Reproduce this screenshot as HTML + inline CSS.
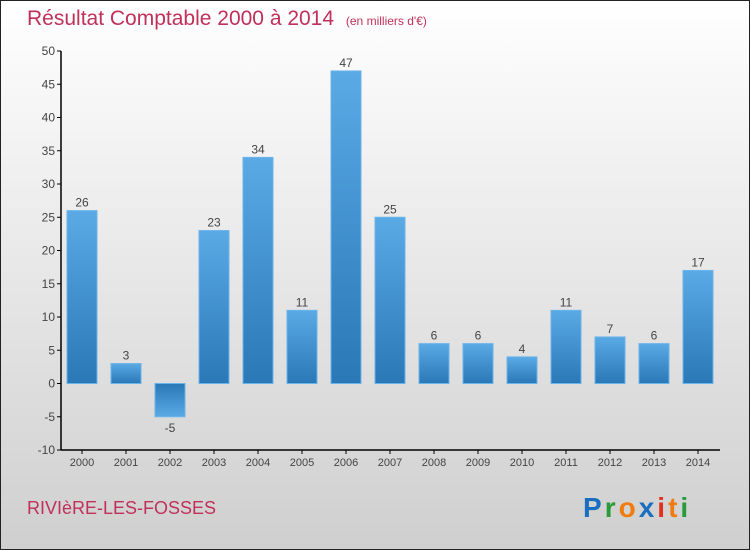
<!DOCTYPE html>
<html><head><meta charset="utf-8"><style>
body{margin:0;width:750px;height:550px;overflow:hidden}
svg{display:block}
</style></head><body>
<svg id="c" width="750" height="550" xmlns="http://www.w3.org/2000/svg" font-family="'Liberation Sans', sans-serif">
<defs>
<linearGradient id="bg" x1="0" y1="0" x2="0" y2="1"><stop offset="0" stop-color="#ffffff"/><stop offset="1" stop-color="#cfcfcf"/></linearGradient>
<linearGradient id="bp" x1="0" y1="0" x2="0" y2="1"><stop offset="0" stop-color="#5aaae6"/><stop offset="1" stop-color="#2a78b6"/></linearGradient>
<linearGradient id="bn" x1="0" y1="0" x2="0" y2="1"><stop offset="0" stop-color="#2a78b6"/><stop offset="1" stop-color="#5aaae6"/></linearGradient>
</defs>
<rect x="0.5" y="0.5" width="749" height="549" fill="url(#bg)" stroke="#222"/>
<text x="27" y="25" font-size="21" fill="#c0305a">Résultat Comptable 2000 à 2014 <tspan font-size="12" dx="6">(en milliers d'€)</tspan></text>
<g id="axes"></g>
<g id="bars"></g>
<text x="27" y="514" font-size="18" fill="#c0305a">RIVIèRE-LES-FOSSES</text>
<text x="583" y="517" font-size="28" font-weight="bold" letter-spacing="3"><tspan fill="#1a6ec0">P</tspan><tspan fill="#2a9a3a">r</tspan><tspan fill="#f07c10">o</tspan><tspan fill="#1a6ec0">x</tspan><tspan fill="#e03020">i</tspan><tspan fill="#f07c10">t</tspan><tspan fill="#2a9a3a">i</tspan></text>
</svg>
<script>
const years=["2000","2001","2002","2003","2004","2005","2006","2007","2008","2009","2010","2011","2012","2013","2014"];
const values=[26,3,-5,23,34,11,47,25,6,6,4,11,7,6,17];
const yTicks=[-10,-5,0,5,10,15,20,25,30,35,40,45,50];
const NS="http://www.w3.org/2000/svg";
const y=v=>383.5-v*6.65;
const x=i=>82+i*44;
function mk(t,a,p){const e=document.createElementNS(NS,t);for(const k in a)e.setAttribute(k,a[k]);p.appendChild(e);return e;}
const ax=document.getElementById('axes'),bg=document.getElementById('bars');
let l=mk('line',{x1:61,y1:y(50),x2:61,y2:y(-10),stroke:'#000','stroke-width':1.5},ax);


l=mk('line',{x1:61,y1:y(-10),x2:720,y2:y(-10),stroke:'#000','stroke-width':1.5},ax);


yTicks.forEach(v=>{
 mk('line',{x1:57,x2:61,y1:y(v),y2:y(v),stroke:'#000'},ax);
 const t=mk('text',{x:55,y:y(v)+4,'font-size':12,'text-anchor':'end',fill:'#444'},ax);t.textContent=v;
 
 
});
years.forEach((yr,i)=>{
 mk('line',{x1:x(i),x2:x(i),y1:y(-10),y2:y(-10)+4,stroke:'#000'},ax);
 const t=mk('text',{x:x(i),y:466,'font-size':11,'text-anchor':'middle',fill:'#444'},ax);t.textContent=yr;
 
 
 const v=values[i],top=Math.min(y(v),y(0)),h=Math.abs(y(v)-y(0));
 const r=mk('rect',{x:x(i)-15,y:top,width:30,height:h,fill:v>=0?'url(#bp)':'url(#bn)',stroke:'#6ab4ea','stroke-width':1},bg);
 
 
 const lb=mk('text',{x:x(i),y:v>=0?y(v)-4:y(v)+15,'font-size':12,'text-anchor':'middle',fill:'#444'},bg);lb.textContent=v;
 
 
});
</script>
</body></html>
